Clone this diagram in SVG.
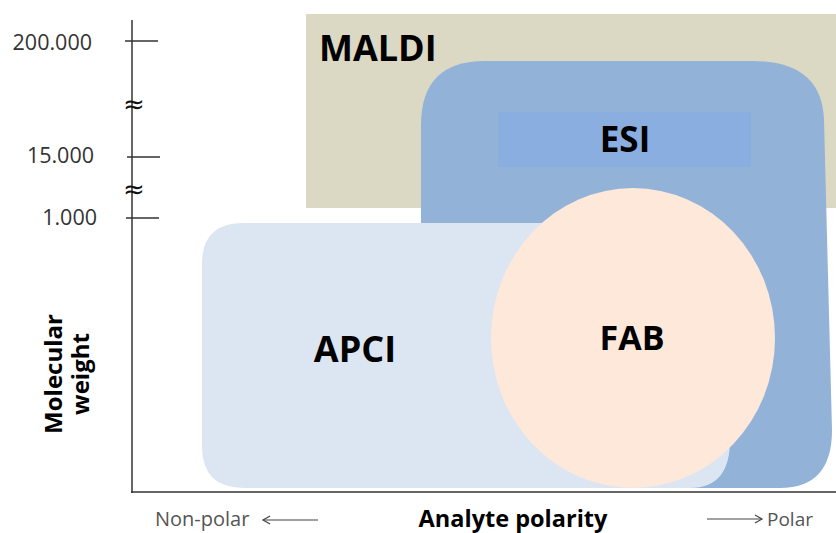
<svg xmlns="http://www.w3.org/2000/svg" width="836" height="533" viewBox="0 0 836 533">
<style>
.lbl{font-family:"Open Sans","Liberation Sans",sans-serif;font-weight:bold;fill:#000}
.tick{font-family:"Open Sans","Liberation Sans",sans-serif;font-size:21.5px;fill:#333}
.ax{font-family:"Open Sans","Liberation Sans",sans-serif;fill:#555}
.ln{stroke:#333;stroke-width:1.5;fill:none}
.arr{stroke:#444;stroke-width:1.2;fill:none}
.apx{font-family:"DejaVu Sans",sans-serif;font-size:26px;fill:#111}
</style>
<defs>
<marker id="ah" markerWidth="10" markerHeight="10" refX="8" refY="5" orient="auto" markerUnits="userSpaceOnUse">
<path d="M1,1 L8,5 L1,9" fill="none" stroke="#444" stroke-width="1.2"/>
</marker>
</defs>
<rect width="836" height="533" fill="#fff"/>
<g id="maldi">
<rect x="306" y="14" width="530" height="194" fill="#dbd8c3"/>
<text class="lbl" x="319" y="61" font-size="36">MALDI</text>
</g>
<g id="esi">
<path d="M421,125 Q421,61 485,61 L752,61 Q822,61 824,120 L832,430 Q832,488 780,488 L421,488 Z" fill="#93b2d8"/>
<rect x="498" y="112" width="253" height="55" fill="#8aaedf"/>
<text class="lbl" x="625" y="152" font-size="35" text-anchor="middle">ESI</text>
</g>
<g id="apci">
<path d="M202,264 Q202,223 243,223 L700,223 L730,440 Q730,488 690,488 L244,488 Q202,488 202,446 Z" fill="#dce6f2"/>
<text class="lbl" x="355" y="362" font-size="36" text-anchor="middle">APCI</text>
</g>
<g id="fab">
<ellipse cx="633" cy="338" rx="142" ry="150" fill="#fde8d9"/>
<text class="lbl" x="632" y="350" font-size="34" text-anchor="middle">FAB</text>
</g>
<g id="axes">
<line class="ln" x1="132" y1="20" x2="132" y2="493"/>
<line class="ln" x1="131" y1="492" x2="836" y2="492"/>
<line class="ln" x1="125" y1="41" x2="158" y2="41"/>
<line class="ln" x1="127" y1="157" x2="160" y2="157"/>
<line class="ln" x1="126" y1="218" x2="159" y2="218"/>
<text class="apx" x="134" y="113" text-anchor="middle">≈</text>
<text class="apx" x="134" y="198" text-anchor="middle">≈</text>
<text class="tick" x="92" y="50" text-anchor="end">200.000</text>
<text class="tick" x="94" y="163" text-anchor="end">15.000</text>
<text class="tick" x="97" y="225" text-anchor="end">1.000</text>
<text class="lbl" font-size="24" text-anchor="middle" transform="translate(62,374) rotate(-90)">Molecular</text>
<text class="lbl" font-size="24" text-anchor="middle" transform="translate(89,374) rotate(-90)">weight</text>
<text class="lbl" x="513" y="527" font-size="23.5" text-anchor="middle">Analyte polarity</text>
<text class="ax" x="155" y="526" font-size="20">Non-polar</text>
<text class="ax" x="767" y="526" font-size="19">Polar</text>
<line class="arr" x1="318" y1="520" x2="263" y2="520" marker-end="url(#ah)"/>
<line class="arr" x1="707" y1="519" x2="762" y2="519" marker-end="url(#ah)"/>
</g>
</svg>
